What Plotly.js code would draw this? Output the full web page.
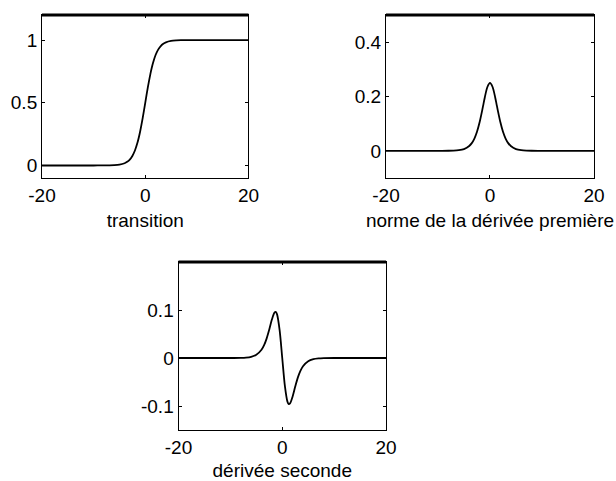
<!DOCTYPE html>
<html>
<head>
<meta charset="utf-8">
<script src="https://cdn.plot.ly/plotly-3.0.1.min.js"></script>
<style>html,body{margin:0;padding:0;background:#fff;}#chart{width:616px;height:481px;}</style>
</head>
<body>
<div id="chart"></div>
<script>
// sample positions
const xs = [-20,-15,-10,-8,-7,-6,-5,-4,-3.5,-3,-2.5,-2,-1.5,-1.25,-1,-0.5,0,0.5,1,1.25,1.5,2,2.5,3,3.5,4,5,6,7,8,10,15,20];
// transition
const transition = [0,0,0,0.0003,0.0009,0.0025,0.0067,0.0180,0.0293,0.0474,0.0759,0.1192,0.1824,0.2227,0.2689,0.3775,0.5,0.6225,0.7311,0.7773,0.8176,0.8808,0.9241,0.9526,0.9707,0.9820,0.9933,0.9975,0.9991,0.9997,1,1,1];
// norme de la dérivée première
const firstDeriv = [0,0,0,0.0003,0.0009,0.0025,0.0066,0.0177,0.0285,0.0452,0.0701,0.1050,0.1491,0.1731,0.1966,0.2350,0.25,0.2350,0.1966,0.1731,0.1491,0.1050,0.0701,0.0452,0.0285,0.0177,0.0066,0.0025,0.0009,0.0003,0,0,0];
// dérivée seconde
const secondDeriv = [0,0,0,0.0003,0.0009,0.0025,0.0066,0.0171,0.0268,0.0409,0.0595,0.0800,0.0947,0.0960,0.0909,0.0576,0,-0.0576,-0.0909,-0.0960,-0.0947,-0.0800,-0.0595,-0.0409,-0.0268,-0.0171,-0.0066,-0.0025,-0.0009,-0.0003,0,0,0];

const xTickVals = [-20,0,20];
const xTickText = ['-20','0','20'];
const y1TickVals = [0,0.5,1];
const y1TickText = ['0','0.5','1'];
const y2TickVals = [0,0.2,0.4];
const y2TickText = ['0','0.2','0.4'];
const y3TickVals = [-0.1,0,0.1];
const y3TickText = ['-0.1','0','0.1'];
const titles = ['transition','norme de la dérivée première','dérivée seconde'];

const font = {family:'"Liberation Sans", Arial, sans-serif', size:19, color:'#000'};
const lineStyle = {color:'#000', width:1.8, shape:'spline', smoothing:0.8};

const traces = [
  {x:xs, y:transition, xaxis:'x', yaxis:'y', mode:'lines', line:lineStyle, hoverinfo:'skip'},
  {x:xs, y:firstDeriv, xaxis:'x2', yaxis:'y2', mode:'lines', line:lineStyle, hoverinfo:'skip'},
  {x:xs, y:secondDeriv, xaxis:'x3', yaxis:'y3', mode:'lines', line:lineStyle, hoverinfo:'skip'}
];

function xa(domain, anchor, title){
  return {domain:domain, anchor:anchor, range:[-20,20], tickmode:'array', tickvals:xTickVals, ticktext:xTickText,
    ticks:'inside', ticklen:3, tickcolor:'#000', showline:true, linecolor:'#000', linewidth:1, mirror:'ticks',
    showgrid:false, zeroline:false, tickfont:font, automargin:false,
    title:{text:title, font:font, standoff:8}};
}
function ya(domain, anchor, range, vals, text){
  return {domain:domain, anchor:anchor, range:range, tickmode:'array', tickvals:vals, ticktext:text,
    ticks:'inside', ticklen:3, tickcolor:'#000', showline:true, linecolor:'#000', linewidth:1, mirror:'ticks',
    showgrid:false, zeroline:false, tickfont:font, automargin:false};
}

const layout = {
  width:616, height:481, margin:{l:0,r:0,t:0,b:0}, showlegend:false,
  paper_bgcolor:'#fff', plot_bgcolor:'#fff', font:font,
  xaxis: xa([0.0682,0.4034],'y',titles[0]),
  yaxis: ya([0.6299,0.9688],'x',[-0.1,1.2],y1TickVals,y1TickText),
  xaxis2: xa([0.6266,0.9643],'y2',titles[1]),
  yaxis2: ya([0.6299,0.9688],'x2',[-0.1,0.5],y2TickVals,y2TickText),
  xaxis3: xa([0.2898,0.6266],'y3',titles[2]),
  yaxis3: ya([0.1060,0.4553],'x3',[-0.15,0.2],y3TickVals,y3TickText),
  shapes: [
    {type:'line', xref:'x domain', yref:'y domain', x0:0, x1:1, y0:1, y1:1, line:{color:'#000', width:3}},
    {type:'line', xref:'x2 domain', yref:'y2 domain', x0:0, x1:1, y0:1, y1:1, line:{color:'#000', width:3}},
    {type:'line', xref:'x3 domain', yref:'y3 domain', x0:0, x1:1, y0:1, y1:1, line:{color:'#000', width:3}}
  ]
};

Plotly.newPlot('chart', traces, layout, {staticPlot:true, displayModeBar:false});
</script>
</body>
</html>
